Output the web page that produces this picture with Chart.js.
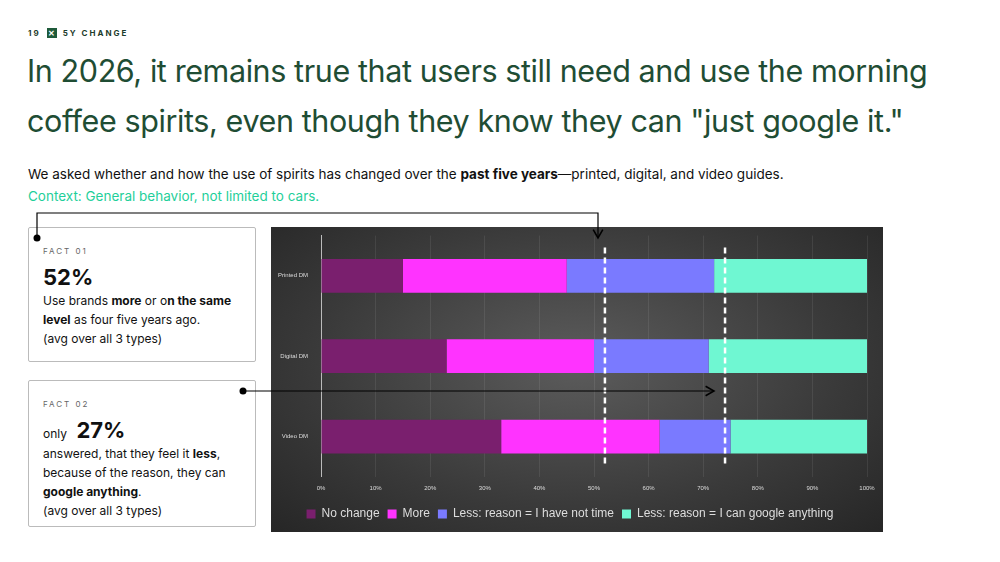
<!DOCTYPE html>
<html><head><meta charset="utf-8">
<script src="https://cdn.jsdelivr.net/npm/chart.js@4"></script>
<style>
body{margin:0;width:1000px;height:562px;background:#fff;font-family:Inter,"Noto Sans",sans-serif;position:relative;overflow:hidden;color:#111}
.hdr{position:absolute;left:28px;top:28px;font-size:8px;font-weight:700;letter-spacing:2px;color:#1d3b2c;display:flex;align-items:center;gap:6px}
.hdr .ic{width:10px;height:10px;background:#1e5a3a;color:#fff;font-size:8px;line-height:10px;text-align:center;letter-spacing:0}
h1{position:absolute;left:27px;top:46px;margin:0;font-weight:400;font-size:30.5px;line-height:50px;color:#1f4d34;letter-spacing:-0.4px;white-space:nowrap}
.sub{position:absolute;left:28px;top:163px;font-size:13.5px;line-height:22px;white-space:nowrap}
.ctx{color:#1fcf9a}
.box{position:absolute;border:1.5px solid #bbb;border-radius:2px;background:#fff;padding:14px 14px;box-sizing:border-box;font-size:12px;line-height:19px}
.lab{font-size:8px;letter-spacing:2px;color:#666;margin-bottom:2px}
.big{font-size:22px;font-weight:700;line-height:28px}
#wrap{position:absolute;left:271px;top:227px;width:612px;height:305px;background:radial-gradient(ellipse at 50% 45%,#5c5c5c 0%,#3a3a3a 60%,#262626 100%)}
svg{position:absolute;left:0;top:0}
</style></head><body>
<div class="hdr"><span>19</span><span class="ic">✕</span><span>5Y CHANGE</span></div>
<h1>In 2026, it remains true that users still need and use the morning<br>coffee spirits, even though they know they can "just google it."</h1>
<div class="sub">We asked whether and how the use of spirits has changed over the <b>past five years</b>—printed, digital, and video guides.<br><span class="ctx">Context: General behavior, not limited to cars.</span></div>
<div class="box" style="left:28px;top:227px;width:228px;height:135px">
<div class="lab">FACT 01</div><div class="big">52%</div>
<div>Use brands <b>more</b> or o<b>n the same level</b> as four five years ago.</div><div>(avg over all 3 types)</div></div>
<div class="box" style="left:28px;top:380px;width:228px;height:147px">
<div class="lab">FACT 02</div><div>only <span class="big" style="margin-left:6px">27%</span></div>
<div>answered, that they feel it <b>less</b>, because of the reason, they can <b>google anything</b>.</div><div>(avg over all 3 types)</div></div>
<div id="wrap"><canvas id="c" width="612" height="305"></canvas></div>
<svg width="1000" height="562">
<defs><marker id="a" markerWidth="10" markerHeight="10" refX="8" refY="5" orient="auto"><path d="M1,1 L8,5 L1,9" fill="none" stroke="#000" stroke-width="1.3"/></marker></defs>
<circle cx="37" cy="238" r="3.5" fill="#000"/>
<polyline points="37,238 37,213 598,213 598,238" fill="none" stroke="#000" stroke-width="1.2" marker-end="url(#a)"/>
<circle cx="243" cy="391" r="3.5" fill="#000"/>
<line x1="243" y1="391" x2="714" y2="391" stroke="#000" stroke-width="1.2" marker-end="url(#a)"/>
</svg>
<script>
const categories=["Printed DM","Digital DM","Video DM"];
const seriesNames=["No change","More","Less: reason = I have not time","Less: reason = I can google anything"];
const noChange=[15,23,33];
const more=[30,27,29];
const lessNoTime=[27,21,13];
const lessGoogle=[28,29,25];
const markerLines=[52,74];
const colors=["#7a1f6e","#ff33ff","#7a7aff","#6ff7d2"];
const dashPlugin={id:"dash",afterDatasetsDraw(ch){const x=ch.scales.x,ctx=ch.ctx,a=ch.chartArea;ctx.save();ctx.strokeStyle="#fff";ctx.lineWidth=2.5;ctx.setLineDash([6,4]);
markerLines.forEach(v=>{const px=x.getPixelForValue(v);ctx.beginPath();ctx.moveTo(px,a.top+12);ctx.lineTo(px,a.bottom-10);ctx.stroke();});ctx.restore();}};
new Chart(document.getElementById("c"),{type:"bar",
data:{labels:categories,datasets:[noChange,more,lessNoTime,lessGoogle].map((d,i)=>({label:seriesNames[i],data:d,backgroundColor:colors[i],barPercentage:0.42,categoryPercentage:1}))},
options:{indexAxis:"y",responsive:false,animation:false,
layout:{padding:{left:2,right:16,top:8,bottom:2}},
scales:{x:{stacked:true,min:0,max:100,ticks:{stepSize:10,callback:v=>v+"%",color:"#ddd",font:{size:6},padding:8},grid:{color:"rgba(255,255,255,0.08)",drawTicks:false},border:{display:false}},
y:{stacked:true,ticks:{color:"#ddd",font:{size:6},padding:5},grid:{display:false},border:{color:"#bbb",width:1}}},
plugins:{legend:{position:"bottom",labels:{color:"#ddd",boxWidth:9,boxHeight:9,font:{size:12},padding:8}},tooltip:{enabled:false}}},
plugins:[dashPlugin]});
</script>
</body></html>
